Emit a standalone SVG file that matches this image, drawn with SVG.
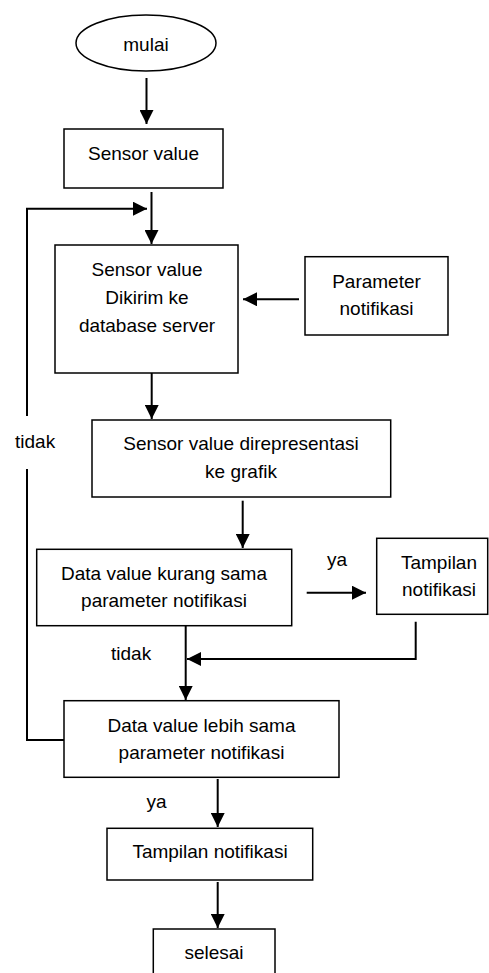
<svg xmlns="http://www.w3.org/2000/svg" width="489" height="973" viewBox="0 0 489 973">
<style>
  .box { fill: #fff; stroke: #000; stroke-width: 1.5; }
  .lbl { font-family: "Liberation Sans", Arial, sans-serif; font-size: 19px; fill: #000; text-anchor: middle; }
  .tag { font-family: "Liberation Sans", Arial, sans-serif; font-size: 19px; fill: #000; }
  .con { fill: none; stroke: #000; stroke-width: 2; }
</style>
<defs>
  <marker id="ah" markerUnits="userSpaceOnUse" markerWidth="14" markerHeight="14" refX="14" refY="7" orient="auto">
    <path d="M0,0 L14,7 L0,14 z" fill="#000"/>
  </marker>
</defs>
<rect width="489" height="973" fill="#fff"/>

<g id="connectors">
  <line class="con" x1="146.5" y1="78" x2="146.5" y2="124" marker-end="url(#ah)"/>
  <line class="con" x1="151.5" y1="192" x2="151.5" y2="244" marker-end="url(#ah)"/>
  <polyline class="con" points="64,740 27,740 27,469"/>
  <polyline class="con" points="27,416 27,208.7 147,208.7" marker-end="url(#ah)"/>
  <line class="con" x1="299" y1="299.3" x2="243" y2="299.3" marker-end="url(#ah)"/>
  <line class="con" x1="151.7" y1="373" x2="151.7" y2="419" marker-end="url(#ah)"/>
  <line class="con" x1="242.7" y1="500.7" x2="242.7" y2="548" marker-end="url(#ah)"/>
  <line class="con" x1="306.7" y1="592.7" x2="366" y2="592.7" marker-end="url(#ah)"/>
  <polyline class="con" points="415.7,621.7 415.7,659 187,659" marker-end="url(#ah)"/>
  <line class="con" x1="185.7" y1="626" x2="185.7" y2="700" marker-end="url(#ah)"/>
  <line class="con" x1="217.7" y1="779" x2="217.7" y2="827" marker-end="url(#ah)"/>
  <line class="con" x1="217.7" y1="882" x2="217.7" y2="928" marker-end="url(#ah)"/>
  <text class="tag" x="15" y="448">tidak</text>
  <text class="tag" x="327" y="566">ya</text>
  <text class="tag" x="111" y="660">tidak</text>
  <text class="tag" x="146.5" y="808">ya</text>
</g>

<g id="mulai">
  <ellipse class="box" cx="146" cy="43" rx="70" ry="28"/>
  <text class="lbl" x="146" y="51">mulai</text>
</g>

<g id="sensor-value">
  <rect class="box" x="64" y="129" width="159" height="59"/>
  <text class="lbl" x="143.5" y="160">Sensor value</text>
</g>

<g id="kirim-db">
  <rect class="box" x="55" y="245" width="183" height="128"/>
  <text class="lbl" x="147" y="276">Sensor value</text>
  <text class="lbl" x="147" y="304">Dikirim ke</text>
  <text class="lbl" x="147" y="332">database server</text>
</g>

<g id="parameter">
  <rect class="box" x="305" y="256.7" width="143" height="78.3"/>
  <text class="lbl" x="376.5" y="288">Parameter</text>
  <text class="lbl" x="376.5" y="315">notifikasi</text>
</g>

<g id="grafik">
  <rect class="box" x="92" y="420" width="298.7" height="77"/>
  <text class="lbl" x="241" y="450">Sensor value direpresentasi</text>
  <text class="lbl" x="241" y="478">ke grafik</text>
</g>

<g id="kurang-sama">
  <rect class="box" x="36.7" y="549.3" width="255" height="76.4"/>
  <text class="lbl" x="164" y="580">Data value kurang sama</text>
  <text class="lbl" x="164" y="607">parameter notifikasi</text>
</g>

<g id="tampilan-1">
  <rect class="box" x="376.7" y="538.3" width="111" height="76"/>
  <text class="lbl" x="439" y="569">Tampilan</text>
  <text class="lbl" x="439" y="596">notifikasi</text>
</g>

<g id="lebih-sama">
  <rect class="box" x="64" y="700.7" width="275" height="76.6"/>
  <text class="lbl" x="201.5" y="732">Data value lebih sama</text>
  <text class="lbl" x="201.5" y="759">parameter notifikasi</text>
</g>

<g id="tampilan-2">
  <rect class="box" x="107" y="828.3" width="205.7" height="51.7"/>
  <text class="lbl" x="210" y="858">Tampilan notifikasi</text>
</g>

<g id="selesai">
  <rect class="box" x="153.3" y="929" width="121.7" height="60"/>
  <text class="lbl" x="214" y="959">selesai</text>
</g>
</svg>
